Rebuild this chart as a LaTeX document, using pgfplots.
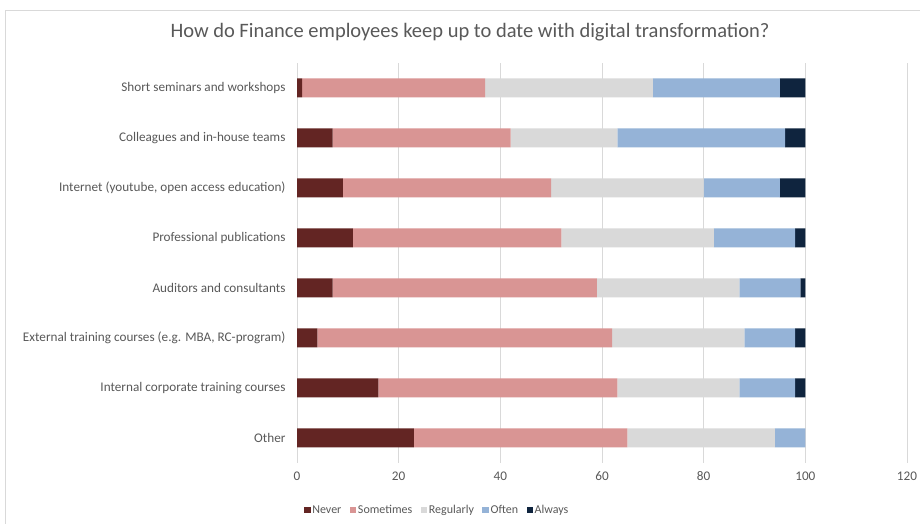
\documentclass[border=0pt]{standalone}
\usepackage{pgfplots}
\pgfplotsset{compat=1.18}
\usepackage{pgfplotstable}
\usepackage{fontspec}
\setmainfont{Carlito}

\definecolor{cnever}{HTML}{632523}
\definecolor{csometimes}{HTML}{D99594}
\definecolor{cregularly}{HTML}{D9D9D9}
\definecolor{coften}{HTML}{95B3D7}
\definecolor{calways}{HTML}{0F243E}
\definecolor{txt}{HTML}{595959}
\definecolor{gridc}{HTML}{D9D9D9}

% idx 0 = bottom category (Other)
\pgfplotstableread{
idx never sometimes regularly often always
0   23    42        29        6     0
1   16    47        24        11    2
2   4     58        26        10    2
3   7     52        28        12    1
4   11    41        30        16    2
5   9     41        30        15    5
6   7     35        21        33    4
7   1     36        33        25    5
}\datatable

\begin{document}
\begin{tikzpicture}[x=1bp,y=1bp]
\useasboundingbox (0,0) rectangle (920,524);
\fill[white] (0,0) rectangle (920,524);
\draw[gridc, line width=0.8bp] (5,0) -- (5,514) -- (920,514);
\node[txt, font=\fontsize{20.5bp}{24bp}\selectfont] at (470,492) {How do Finance employees keep up to date with digital transformation?};
\begin{axis}[
    at={(297bp,61bp)}, anchor=south west,
    scale only axis, width=610bp, height=400bp,
    xbar stacked, bar width=19bp,
    xmin=0, xmax=120, ymin=-0.5, ymax=7.5,
    xtick={0,20,...,120},
    ytick={0,...,7},
    yticklabels={Other, Internal corporate training courses, {External training courses (e.g. MBA, RC-program)}, Auditors and consultants, Professional publications, {Internet (youtube, open access education)}, Colleagues and in-house teams, Short seminars and workshops},
    axis line style={draw=none},
    major tick length=0pt,
    xmajorgrids, grid style={gridc, line width=1bp},
    tick label style={txt, font=\fontsize{13.2bp}{16bp}\selectfont},
    /pgf/number format/assume math mode=true,
    xticklabel style={yshift=-5bp},
    yticklabel style={xshift=-8bp},
    legend columns=5,
    legend style={at={(0.2295,-0.1175)}, anchor=center, draw=none, fill=none,
        font=\fontsize{12bp}{14bp}\selectfont, text=txt,
        /tikz/every odd column/.append style={column sep=0bp},
        /tikz/every even column/.append style={column sep=7bp},
        nodes={inner xsep=1.5bp}},
    legend image code/.code={\fill[#1] (0bp,-3.3bp) rectangle (6.6bp,3.3bp);},
    every axis plot/.append style={draw=none},
]
\addplot[fill=cnever] table[x=never, y=idx] {\datatable};
\addplot[fill=csometimes] table[x=sometimes, y=idx] {\datatable};
\addplot[fill=cregularly] table[x=regularly, y=idx] {\datatable};
\addplot[fill=coften] table[x=often, y=idx] {\datatable};
\addplot[fill=calways] table[x=always, y=idx] {\datatable};
\legend{Never, Sometimes, Regularly, Often, Always}
\end{axis}
\end{tikzpicture}
\end{document}
